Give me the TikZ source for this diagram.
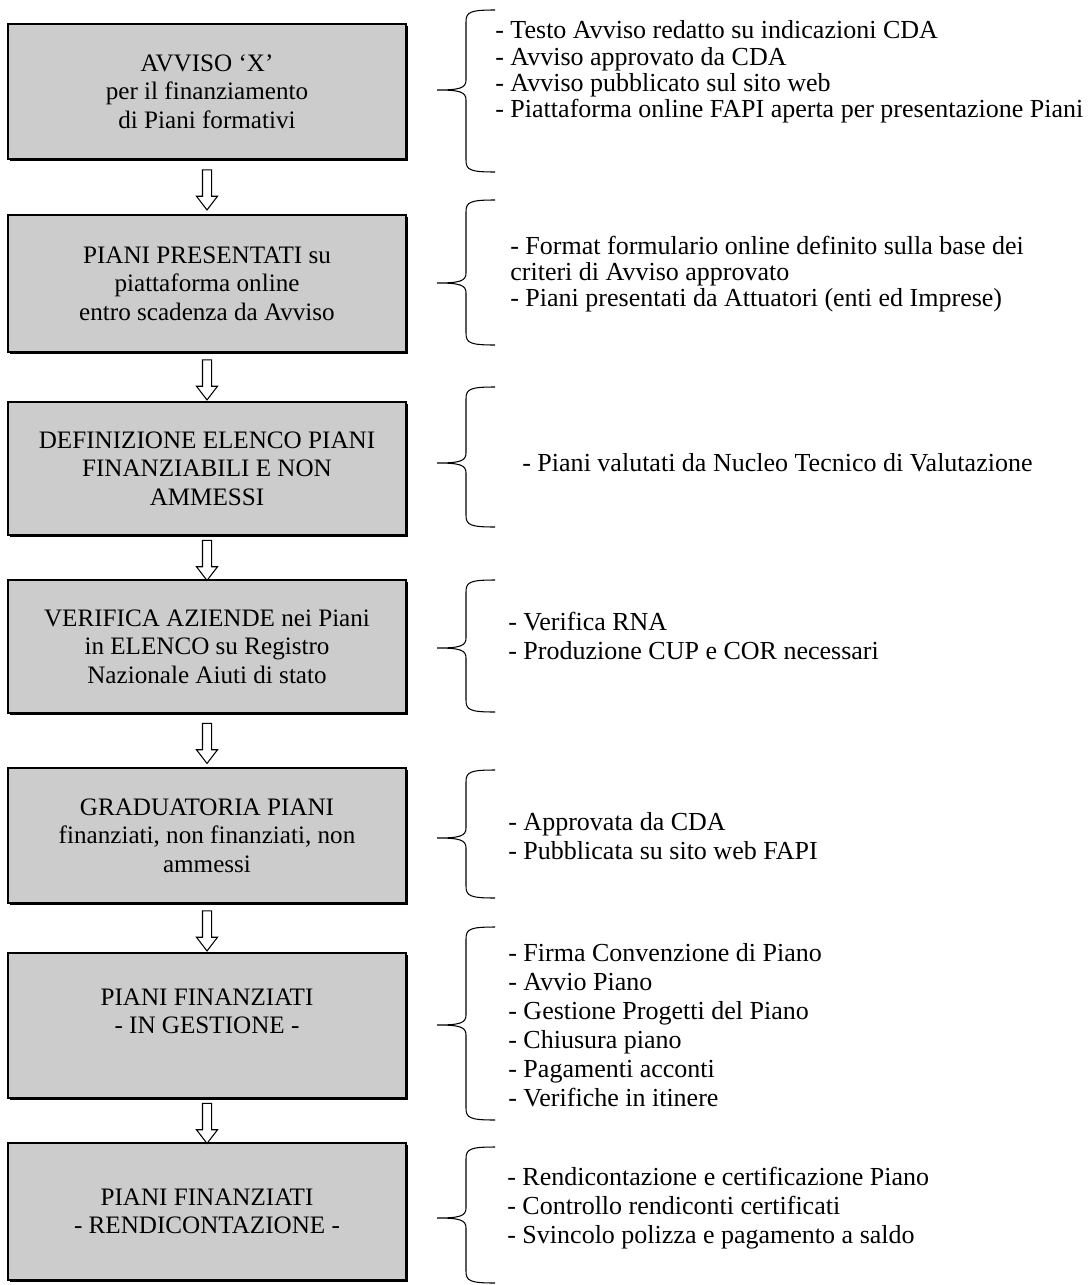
\documentclass[tikz,border=0pt]{standalone}
\usepackage{fontspec}
\setmainfont{Liberation Serif}
\usepackage{tikz}
\usetikzlibrary{shapes.arrows,shadows}

\tikzset{
  stage/.style={draw, line width=1.4pt, fill=black!20, align=center,
    minimum width=7.96cm, inner sep=2pt,
    font=\fontsize{14.3}{16.2}\selectfont,
    drop shadow={shadow xshift=1.3pt, shadow yshift=-1.3pt, fill=black, opacity=1}},
  notes/.style={anchor=west, align=left, inner sep=0pt,
    font=\fontsize{14.8}{16.5}\selectfont},
  downarrow/.style={single arrow, draw, line width=0.6pt, rotate=-90,
    minimum height=0.8cm, inner sep=0.08cm, single arrow head extend=0.12cm,
    single arrow tip angle=75},
  curly/.style={line width=0.6pt}
}

% curly bracket: top y, tip y, bottom y (in px)
\newcommand{\curly}[3]{%
  \draw[curly] (495,#1) .. controls (470,#1) and (466,#1+2) .. (466,#1+12)
    -- (466,#2-10) .. controls (466,#2-2) and (460,#2) .. (437,#2)
    .. controls (460,#2) and (466,#2+2) .. (466,#2+10)
    -- (466,#3-12) .. controls (466,#3-2) and (470,#3) .. (495,#3);}

\begin{document}
\begin{tikzpicture}[x=0.02cm, y=-0.02cm]

    \useasboundingbox (0,0) rectangle (1091,1285);

    % steps
    \node[stage, minimum height=2.7cm] (avviso) at (207,91.5)
        {AVVISO `X'\\per il finanziamento\\di Piani formativi};
    \node[stage, minimum height=2.74cm] (presentati) at (207,283.5)
        {PIANI PRESENTATI su\\piattaforma online\\entro scadenza da Avviso};
    \node[stage, minimum height=2.66cm] (elenco) at (207,468.5)
        {DEFINIZIONE ELENCO PIANI\\FINANZIABILI E NON\\AMMESSI};
    \node[stage, minimum height=2.66cm] (verifica) at (207,646.5)
        {VERIFICA AZIENDE nei Piani\\in ELENCO su Registro\\Nazionale Aiuti di stato};
    \node[stage, minimum height=2.7cm] (graduatoria) at (207,835.5)
        {GRADUATORIA PIANI\\finanziati, non finanziati, non\\ammessi};
    \node[stage, minimum height=2.9cm] (gestione) at (207,1025.5)
        {PIANI FINANZIATI\\- IN GESTIONE -\\\mbox{}};
    \node[stage, minimum height=2.74cm] (rendiconto) at (207,1211.5)
        {PIANI FINANZIATI\\- RENDICONTAZIONE -};

    % arrows
    \path (avviso.south) -- node[downarrow] (a1) {} (presentati.north);
    \path (presentati.south) -- node[downarrow] (a2) {} (elenco.north);
    \path (elenco.south) -- node[downarrow] (a3) {} (verifica.north);
    \path (verifica.south) -- node[downarrow] (a4) {} (graduatoria.north);
    \path (graduatoria.south) -- node[downarrow] (a5) {} (gestione.north);
    \path (gestione.south) -- node[downarrow] (a6) {} (rendiconto.north);

    % brackets
    \curly{10}{90}{172}
    \curly{200}{283}{345}
    \curly{387}{463}{527}
    \curly{580}{648}{712}
    \curly{770}{838}{898}
    \curly{927}{1025}{1120}
    \curly{1147}{1218}{1283}

    % notes
    \node[notes, font=\fontsize{14.8}{15}\selectfont] (n1) at (495,72)
        {- Testo Avviso redatto su indicazioni CDA\\- Avviso approvato da CDA\\- Avviso pubblicato sul sito web\\- Piattaforma online FAPI aperta per presentazione Piani};
    \node[notes, font=\fontsize{14.8}{14.8}\selectfont] (n2) at (510,274)
        {- Format formulario online definito sulla base dei\\criteri di Avviso approvato\\- Piani presentati da Attuatori (enti ed Imprese)};
    \node[notes] (n3) at (522,463)
        {- Piani valutati da Nucleo Tecnico di Valutazione};
    \node[notes] (n4) at (508,636)
        {- Verifica RNA\\- Produzione CUP e COR necessari};
    \node[notes] (n5) at (508,836)
        {- Approvata da CDA\\- Pubblicata su sito web FAPI};
    \node[notes] (n6) at (508,1025)
        {- Firma Convenzione di Piano\\- Avvio Piano\\- Gestione Progetti del Piano\\- Chiusura piano\\- Pagamenti acconti\\- Verifiche in itinere};
    \node[notes] (n7) at (507,1208)
        {- Rendicontazione e certificazione Piano\\- Controllo rendiconti certificati\\- Svincolo polizza e pagamento a saldo};

\end{tikzpicture}
\end{document}
